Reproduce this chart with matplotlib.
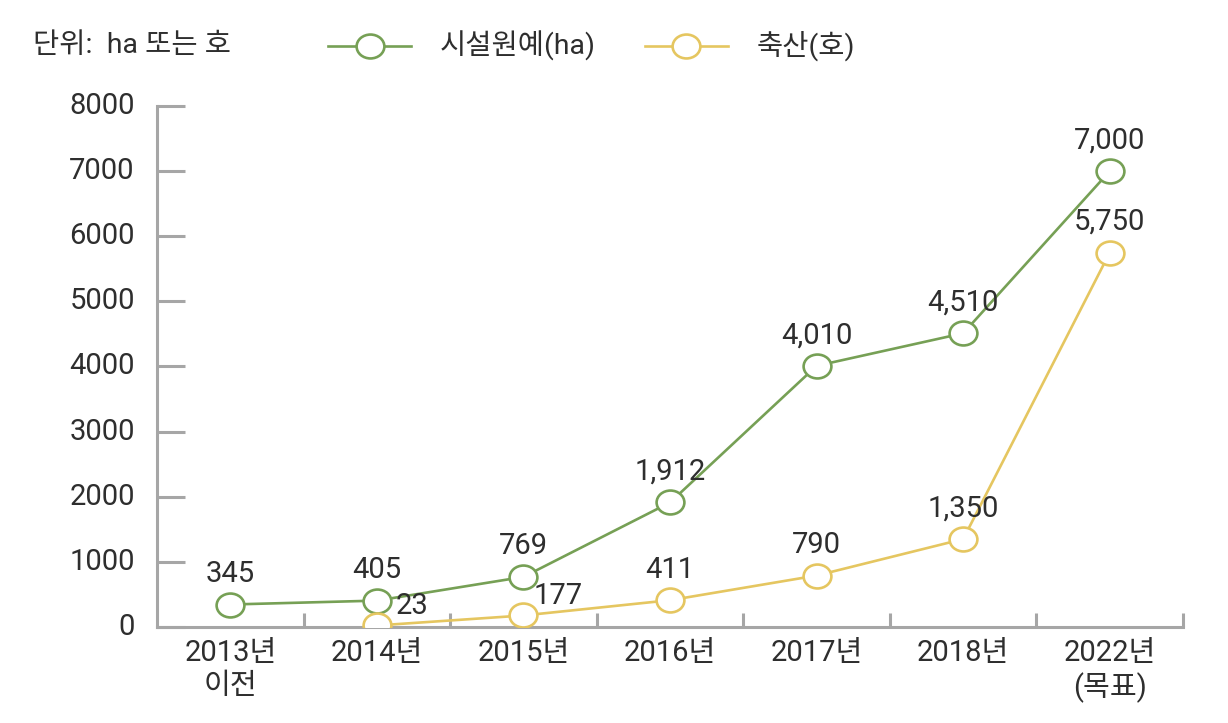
import matplotlib
matplotlib.use("Agg")
import matplotlib.pyplot as plt
from matplotlib.lines import Line2D
from matplotlib.path import Path
from matplotlib.transforms import Affine2D

plt.rcParams['font.family'] = ['Roboto', 'Noto Sans CJK KR', 'DejaVu Sans']

# 데이터
categories = ['2013년\n이전', '2014년', '2015년', '2016년', '2017년', '2018년', '2022년\n(목표)']
greenhouse = [345, 405, 769, 1912, 4010, 4510, 7000]          # 시설원예(ha)
livestock = [None, 23, 177, 411, 790, 1350, 5750]             # 축산(호)
green_labels = ['345', '405', '769', '1,912', '4,010', '4,510', '7,000']
live_labels = [None, '23', '177', '411', '790', '1,350', '5,750']
yticks = [0, 1000, 2000, 3000, 4000, 5000, 6000, 7000, 8000]

GREEN = '#76a055'
YELLOW = '#e5c660'
AXIS = '#a6a6a6'
TEXT = '#2e2e2e'
FS = 21

# 타원형 마커
ellipse = Path.unit_circle().transformed(Affine2D().scale(1.0, 0.86))

fig = plt.figure(figsize=(12.28, 7.23), dpi=100)
ax = fig.add_axes([0.1279, 0.1328, 0.8355, 0.7206])

x = list(range(len(categories)))
ax.plot(x, greenhouse, color=GREEN, lw=1.9, marker=ellipse, ms=20,
        mfc='white', mec=GREEN, mew=1.9, zorder=3)
xl = [i for i, v in zip(x, livestock) if v is not None]
yl = [v for v in livestock if v is not None]
ax.plot(xl, yl, color=YELLOW, lw=1.9, marker=ellipse, ms=20,
        mfc='white', mec=YELLOW, mew=1.9, zorder=3)

for i, (v, t) in enumerate(zip(greenhouse, green_labels)):
    ax.annotate(t, (i, v), xytext=(0, 22), textcoords='offset points',
                ha='center', va='center', fontsize=FS, color=TEXT)
for i, (v, t) in enumerate(zip(livestock, live_labels)):
    if v is None:
        continue
    if t in ('23', '177'):
        off = (25, 14)
    else:
        off = (0, 22)
    ax.annotate(t, (i, v), xytext=off, textcoords='offset points',
                ha='center', va='center', fontsize=FS, color=TEXT)

ax.set_xlim(-0.5, len(categories) - 0.5)
ax.set_ylim(0, 8000)
ax.set_yticks(yticks)
ax.set_yticklabels([str(t) for t in yticks])
ax.set_xticks(x)
ax.set_xticklabels(categories, linespacing=1.2)
ax.set_xticks([i + 0.5 for i in x], minor=True)

for s in ['top', 'right']:
    ax.spines[s].set_visible(False)
for s in ['left', 'bottom']:
    ax.spines[s].set_color(AXIS)
    ax.spines[s].set_linewidth(2.2)

ax.tick_params(axis='y', direction='in', length=20, width=2.2, color=AXIS,
               labelsize=FS, labelcolor=TEXT, pad=16)
ax.tick_params(axis='x', which='major', length=0, labelsize=FS,
               labelcolor=TEXT, pad=9)
ax.tick_params(axis='x', which='minor', direction='in', length=10,
               width=2.2, color=AXIS)
for lab in ax.get_yticklabels():
    lab.set_verticalalignment('center')

# 범례 및 단위
fig.text(0.027, 0.937, '단위:  ha 또는 호', fontsize=20.5, color=TEXT,
         ha='left', va='center')
legend_items = [(0.267, GREEN, '시설원예(ha)'), (0.525, YELLOW, '축산(호)')]
for x0, c, label in legend_items:
    fig.add_artist(Line2D([x0, x0 + 0.068], [0.937, 0.937], transform=fig.transFigure,
                          color=c, lw=1.9))
    fig.add_artist(Line2D([x0 + 0.034], [0.937], transform=fig.transFigure,
                          color=c, marker=ellipse, ms=20, mfc='white', mec=c,
                          mew=1.9, lw=0))
    fig.text(x0 + 0.091, 0.937, label, fontsize=20.5, color=TEXT,
             ha='left', va='center')

fig.savefig('out.png', dpi=100)
